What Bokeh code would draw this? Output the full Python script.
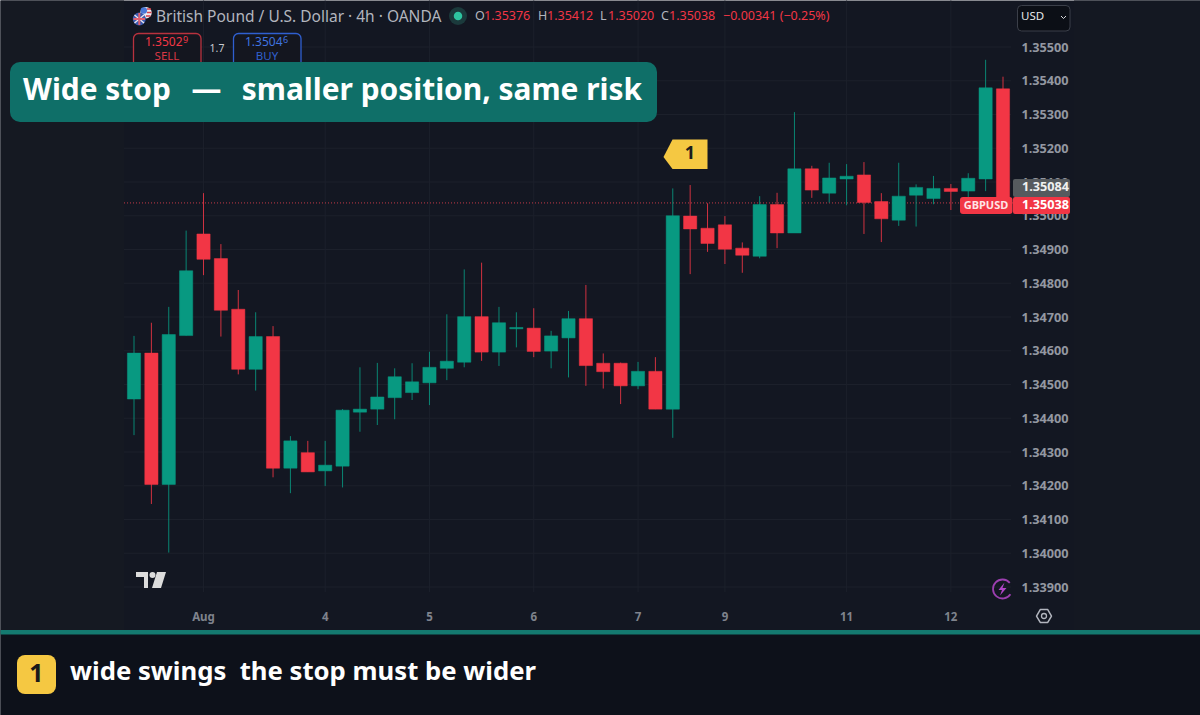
from bokeh.plotting import figure
from bokeh.models import ColumnDataSource, LinearAxis, FixedTicker, NumeralTickFormatter, Range1d
from bokeh.core.properties import value
from bokeh.embed import file_html
from bokeh.resources import INLINE

opens = [1.34457,1.34593,1.34204,1.34645,1.34946,1.34873,1.34723,1.34545,1.34642,1.34252,1.34298,1.34244,1.34258,1.34418,1.34427,1.34461,1.34476,1.34505,1.34548,1.34566,1.34701,1.34596,1.34665,1.34667,1.34599,1.34638,1.34695,1.34563,1.34563,1.34496,1.34539,1.34427,1.34999,1.34963,1.34973,1.34904,1.34880,1.35033,1.34949,1.35139,1.35067,1.35109,1.35121,1.35042,1.34987,1.35061,1.35051,1.35081,1.35073,1.35109,1.35376]
highs = [1.34644,1.34683,1.34730,1.34956,1.35067,1.34916,1.34780,1.34714,1.34673,1.34347,1.34333,1.34333,1.34427,1.34551,1.34564,1.34548,1.34563,1.34597,1.34708,1.34841,1.34861,1.34730,1.34714,1.34726,1.34659,1.34718,1.34795,1.34592,1.34565,1.34567,1.34581,1.35081,1.35091,1.35037,1.34999,1.34921,1.35058,1.35068,1.35307,1.35148,1.35157,1.35153,1.35159,1.35067,1.35157,1.35093,1.35118,1.35094,1.35126,1.35462,1.35412]
lows = [1.34350,1.34146,1.34002,1.34645,1.34824,1.34642,1.34530,1.34482,1.34225,1.34178,1.34241,1.34199,1.34195,1.34360,1.34380,1.34397,1.34454,1.34439,1.34513,1.34551,1.34570,1.34555,1.34610,1.34581,1.34548,1.34521,1.34496,1.34488,1.34442,1.34486,1.34427,1.34342,1.34827,1.34893,1.34857,1.34831,1.34874,1.34904,1.34949,1.35053,1.35039,1.35031,1.34946,1.34922,1.34970,1.34968,1.35034,1.35017,1.35047,1.35073,1.35020]
closes = [1.34593,1.34204,1.34648,1.34837,1.34871,1.34720,1.34545,1.34642,1.34252,1.34333,1.34241,1.34261,1.34424,1.34427,1.34463,1.34523,1.34508,1.34551,1.34569,1.34701,1.34596,1.34683,1.34669,1.34598,1.34644,1.34695,1.34556,1.34538,1.34496,1.34539,1.34427,1.35000,1.34961,1.34918,1.34901,1.34883,1.35033,1.34949,1.35139,1.35076,1.35112,1.35117,1.35039,1.34991,1.35058,1.35084,1.35081,1.35072,1.35111,1.35379,1.35038]
price_ticks = [1.355,1.354,1.353,1.352,1.351,1.350,1.349,1.348,1.347,1.346,1.345,1.344,1.343,1.342,1.341,1.340,1.339]
day_ticks = [4,11,17,23,29,34,41,47]
day_labels = ["Aug","4","5","6","7","9","11","12"]
last_price = 1.35038

BG, BAND, GRID = "#131722", "#0d111a", "#1c202b"
RED, GREEN, GOLD, TEAL = "#f23645", "#089981", "#f5c842", "#0f6f68"
SANS = "Noto Sans"
W, H = 1200, 715
PX_PER_BAR, PX_PER_PRICE, X0, Y0 = 17.38, 33750.0, 133.5, 46.5
def X(px): return (px - X0) / PX_PER_BAR
def Y(py): return 1.355 - (py - Y0) / PX_PER_PRICE
def XA(px): return X(px - 0.5)      # decoration coordinates
def YA(py): return Y(py - 0.5)

p = figure(width=W, height=H, output_backend="svg", toolbar_location=None,
           x_axis_location=None, y_axis_location=None,
           x_range=Range1d(X(0), X(W)), y_range=Range1d(Y(H), Y(0)),
           min_border=0, min_border_left=0, min_border_right=0, min_border_top=0, min_border_bottom=0,
           background_fill_color=BG, border_fill_color=BG,
           styles={"position": "absolute", "left": "0px", "top": "0px"})
p.outline_line_color = None
p.grid.visible = False

yax = LinearAxis(fixed_location=X(1013), ticker=FixedTicker(ticks=price_ticks),
                 formatter=NumeralTickFormatter(format="0.00000"))
xax = LinearAxis(fixed_location=Y(600), ticker=FixedTicker(ticks=day_ticks),
                 major_label_overrides=dict(zip(day_ticks, day_labels)))
for ax, size, st, color in ((yax, "12.7px", 2, "#9397a1"), (xax, "11.5px", 2, "#7f838d")):
    ax.axis_line_color = None
    ax.major_tick_line_color = None
    ax.minor_tick_line_color = None
    ax.major_label_text_font = SANS
    ax.major_label_text_font_style = "bold"
    ax.major_label_text_font_size = size
    ax.major_label_text_color = color
    ax.major_label_standoff = st
    ax.level = "underlay"
p.add_layout(yax, "right")
p.add_layout(xax, "below")

def box(l, t, r, b, fill, line=None, radius=0, lw=1):
    p.quad(left=XA(l), right=XA(r), top=YA(t), bottom=YA(b), fill_color=fill, line_color=line,
           line_width=lw, border_radius=radius)

def txt(x, y, s, size, color, style="normal", align="left", font=SANS):
    p.text(x=[XA(x)], y=[YA(y)], text=[s], text_font=value(font), text_font_size=f"{size}px",
           text_font_style=style, text_color=color, text_align=align, text_baseline="middle")

# side panels are a touch lighter than the chart pane
box(0, 0, 124, 630, "#151922")
box(1074, 0, W, 630, "#141822")

# grid
p.segment(x0=[XA(124)] * len(price_ticks), x1=[XA(1011)] * len(price_ticks), y0=price_ticks, y1=price_ticks,
          line_color=GRID, line_width=1)
p.segment(x0=day_ticks, x1=day_ticks, y0=[YA(0)] * len(day_ticks), y1=[YA(592)] * len(day_ticks),
          line_color=GRID, line_width=1)

# last price line
p.segment(x0=[XA(124)], x1=[XA(1013)], y0=[last_price], y1=[last_price], line_color="#c23a48",
          line_width=1, line_dash="1 2")

# candles
idx = list(range(len(opens)))
cols = [GREEN if c >= o else RED for o, c in zip(opens, closes)]
src = ColumnDataSource(dict(x=idx, o=opens, h=highs, l=lows, c=closes, col=cols))
p.segment(x0="x", x1="x", y0="h", y1="l", line_color="col", line_width=1, line_alpha=0.85, source=src)
p.vbar(x="x", width=0.76, top="o", bottom="c", fill_color="col", line_color="col", line_width=0.5, source=src)

# header: flags
p.scatter(x=[XA(146)], y=[YA(12.7)], size=11.5, fill_color="#ececf2", line_color=None)
p.scatter(x=[XA(143.8)], y=[YA(10.5)], size=6.5, fill_color="#4a78d8", line_color=None)
p.segment(x0=[XA(147), XA(147), XA(146)], x1=[XA(151), XA(151.5), XA(150.5)],
          y0=[YA(9), YA(12.5), YA(16)], y1=[YA(9), YA(12.5), YA(16)], line_color="#d9404a", line_width=1.3)
p.scatter(x=[XA(139.3)], y=[YA(19)], size=13, fill_color="#3a5cb0", line_color=None)
p.segment(x0=[XA(134.5), XA(134.5), XA(133.5), XA(139.3)], x1=[XA(144), XA(144), XA(145), XA(139.3)],
          y0=[YA(15), YA(23), YA(19), YA(13)], y1=[YA(23), YA(15), YA(19), YA(25)],
          line_color=["#f0e8ee", "#f0e8ee", "#e06070", "#e06070"], line_width=[1.3, 1.3, 2, 2])
txt(156, 15.5, "British Pound / U.S. Dollar · 4h · OANDA", 15.5, "#b2b5be")
p.scatter(x=[XA(458)], y=[YA(16)], size=18, fill_color="#1b3a3c", line_color=None)
p.scatter(x=[XA(458)], y=[YA(16)], size=8.5, fill_color="#2ec4a0", line_color=None)
for x, s, c in ((475, "O", "#b2b5be"), (484, "1.35376", RED), (538, "H", "#b2b5be"), (547, "1.35412", RED),
                (600, "L", "#b2b5be"), (608, "1.35020", RED), (661, "C", "#b2b5be"), (669, "1.35038", RED),
                (723, "−0.00341 (−0.25%)", RED)):
    txt(x, 15.5, s, 12.5, c)

# sell / buy
box(133.5, 33.5, 201, 72, "#14161f", "#b8323e", 5, 1.3)
box(233.5, 33.5, 301, 72, "#14161f", "#2f5fd0", 5, 1.3)
txt(145, 41, "1.3502", 12, RED)
txt(183, 39, "9", 9, RED)
txt(167, 55.5, "SELL", 11.5, "#d83845", align="center")
txt(245, 41, "1.3504", 12, "#3f74e0")
txt(283, 39, "6", 9, "#3f74e0")
txt(267, 55.5, "BUY", 11.5, "#3160cc", align="center")
txt(217, 47.5, "1.7", 10.5, "#c8cad0", align="center")

# USD
box(1017.5, 5.5, 1070, 31, "#0c0f16", "#3b3f49", 4, 1)
txt(1021, 15.5, "USD", 11.5, "#e6e7ea")
p.line(x=[XA(1061), XA(1063.5), XA(1066)], y=[YA(16), YA(18.5), YA(16)], line_color="#d8d9dc", line_width=1)

# marker 1
p.patch(x=[XA(663.5), XA(672.5), XA(707.5), XA(707.5), XA(672.5)], y=[YA(157), YA(139.5), YA(139.5), YA(169), YA(169)],
        fill_color=GOLD, line_color=None)
txt(690, 152.5, "1", 18, "#1c1c1c", "bold", "center")

# price tags
box(1013, 179, 1070, 197, "#565a5e", None, 2)
txt(1022, 186.5, "1.35084", 12.7, "#f0f0f0", "bold")
box(960, 197, 1012.5, 214, RED, None, 3)
txt(986, 204, "GBPUSD", 11, "#ffe4e6", "bold", "center")
box(1013, 197, 1070, 214, RED, None, 2)
txt(1022, 204, "1.35038", 12.7, "#ffffff", "bold")

# TradingView logo
p.patches(xs=[[XA(136), XA(148), XA(148), XA(144), XA(144), XA(141), XA(141), XA(136)],
              [XA(157), XA(166), XA(161), XA(152)]],
          ys=[[YA(572), YA(572), YA(588), YA(588), YA(577), YA(577), YA(577), YA(577)],
              [YA(572), YA(572), YA(588), YA(588)]],
          fill_color="#dcdcdc", line_color=None)
p.scatter(x=[XA(152.5)], y=[YA(575)], size=6, fill_color="#dcdcdc", line_color=None)

# bolt icon
p.arc(x=[XA(1002.5)], y=[YA(589)], radius=9.5 / PX_PER_BAR, start_angle=0.7, end_angle=5.7, direction="anticlock",
      line_color="#9c3fb0", line_width=1.8)
p.patch(x=[XA(1004.5), XA(998.5), XA(1002), XA(1000), XA(1006.5), XA(1002.5)],
        y=[YA(582.5), YA(590), YA(590), YA(595.5), YA(588), YA(588)], fill_color="#b044c8", line_color=None)

# gear
p.scatter(x=[XA(1044)], y=[YA(616)], marker="hex", size=15, fill_color=None, line_color="#b2b5be", line_width=1.5)
p.scatter(x=[XA(1044)], y=[YA(616)], size=5, fill_color=None, line_color="#b2b5be", line_width=1.3)

# banner
box(10, 62, 657, 122, TEAL, None, 10)
txt(23, 88, "Wide stop\u00a0\u00a0\u2009—\u2009\u00a0\u00a0smaller position, same risk", 29.9, "#ffffff", "bold")

# bottom band
box(0, 630, W, H, BAND)
box(0, 630, W, 634.5, "#147a70")
box(17, 655, 56, 694, GOLD, None, 8)
txt(36.5, 673, "1", 25, "#1a1a1a", "bold", "center")
txt(70, 670, "wide swings\u00a0\u00a0the stop must be wider", 25.7, "#ffffff", "bold")

open("out.html", "w").write(file_html(p, INLINE))
